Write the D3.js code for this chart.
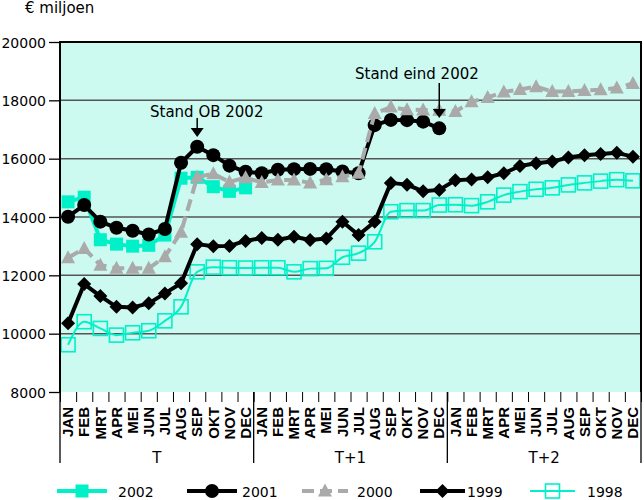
<!DOCTYPE html>
<html><head><meta charset="utf-8">
<script src="https://cdn.jsdelivr.net/npm/d3@7/dist/d3.min.js"></script>
<style>
html,body{margin:0;padding:0;background:#fff;}
svg{display:block;font-family:"DejaVu Sans",sans-serif;}
</style></head>
<body><svg id="c" width="644" height="500"></svg>
<script>
const months = ["JAN","FEB","MRT","APR","MEI","JUN","JUL","AUG","SEP","OKT","NOV","DEC"];
const periods = ["T","T+1","T+2"];
const yTicks = [8000,10000,12000,14000,16000,18000,20000];
const s2002 = [14520,14680,13220,13070,13000,13030,13380,15330,15360,15040,14880,15000];
const s2001 = [14010,14410,13840,13630,13530,13400,13590,15860,16410,16120,15760,15550,
               15500,15620,15640,15650,15640,15560,15500,17150,17330,17320,17270,17040];
const s2000 = [12600,12920,12350,12240,12240,12240,12640,13480,15370,15480,15200,15350,
               15180,15270,15270,15170,15280,15380,15500,17550,17770,17680,17670,17660,
               17620,17950,18100,18290,18370,18470,18300,18300,18340,18360,18420,18580];
const s1999 = [10360,11700,11290,10920,10900,11040,11380,11730,13070,13000,13010,13180,
               13280,13220,13320,13210,13260,13840,13380,13840,15170,15110,14880,14930,
               15260,15290,15360,15500,15750,15840,15900,16040,16120,16160,16200,16070];
const s1998 = [9620,10410,10180,9950,10030,10100,10440,10920,12120,12280,12260,12250,
               12260,12260,12120,12230,12240,12620,12760,13150,14180,14220,14220,14410,
               14420,14390,14520,14750,14870,14950,15000,15100,15170,15230,15280,15240];
const legendLabels = ["2002","2001","2000","1999","1998"];
const annotations = [{text:"Stand OB 2002", idx:8, series:"2001"},{text:"Stand eind 2002", idx:23, series:"2001"}];

const CYAN = "#00f0c8", BG = "#ccfaf1", GRAY = "#aaaaaa";
const L = 60, R = 641, T = 42, B = 392;
const svg = d3.select("#c");
const nM = 36;
const xb = d3.scaleBand().domain(d3.range(nM)).range([L, R]).padding(0);
const xl = d3.scaleLinear().domain([0, nM]).range([L, R]);
const y = d3.scaleLinear().domain([8000, 20000]).range([B, T]);
const cx = i => xb(i) + xb.bandwidth() / 2;

// background
svg.append("rect").attr("x", L).attr("y", T).attr("width", R - L).attr("height", B - T).attr("fill", BG);
// gridlines
svg.append("g").selectAll("line").data(yTicks.filter(v => v > 8000 && v < 20000)).join("line")
  .attr("x1", L).attr("x2", R).attr("y1", d => y(d)).attr("y2", d => y(d))
  .attr("stroke", "#555").attr("stroke-width", 1.5);

// y axis
const ya = svg.append("g").attr("transform", `translate(${L},0)`)
  .call(d3.axisLeft(y).tickValues(yTicks).tickSize(11).tickPadding(3).tickFormat(d3.format("d")));
ya.select(".domain").remove();
ya.selectAll(".tick line").attr("stroke", "#000").attr("stroke-width", 1.3);
ya.selectAll(".tick text").attr("font-size", 14).attr("font-family", "DejaVu Sans").attr("fill", "#000").attr("dy", "0.36em");

// x axis ticks
const xa = svg.append("g").attr("transform", `translate(0,${B})`)
  .call(d3.axisBottom(xl).tickValues(d3.range(0, nM + 1)).tickSize(10).tickFormat(""));
xa.select(".domain").remove();
xa.selectAll(".tick line").attr("stroke", "#000").attr("stroke-width", 1);
// year separators
svg.append("g").selectAll("line").data([0, 12, 24, 36]).join("line")
  .attr("x1", d => xl(d)).attr("x2", d => xl(d)).attr("y1", B).attr("y2", 463)
  .attr("stroke", "#000").attr("stroke-width", 1.3);
// month labels
svg.append("g").selectAll("text").data(d3.range(nM)).join("text")
  .attr("transform", i => `translate(${cx(i) + 5.2},407) rotate(-90)`)
  .attr("text-anchor", "end").attr("font-size", 15).attr("font-weight", "bold")
  .attr("font-family", "Liberation Sans").text(i => months[i % 12]);
// period labels
svg.append("g").selectAll("text").data(periods).join("text")
  .attr("x", (d, i) => xl(i * 12 + 6)).attr("y", 463).attr("text-anchor", "middle")
  .attr("font-size", 15).text(d => d);

// unit label
svg.append("text").attr("x", 25).attr("y", 13).attr("font-size", 15).text("€ miljoen");

// markers
function marker(g, type, x0, y0, color) {
  if (type === "sq") g.append("rect").attr("x", x0 - 6.5).attr("y", y0 - 6.5).attr("width", 13).attr("height", 13).attr("fill", color);
  else if (type === "circle") g.append("circle").attr("cx", x0).attr("cy", y0).attr("r", 7).attr("fill", color);
  else if (type === "tri") g.append("path").attr("d", `M${x0},${y0 - 7.5}L${x0 + 7},${y0 + 5.5}L${x0 - 7},${y0 + 5.5}Z`).attr("fill", color);
  else if (type === "dia") g.append("path").attr("d", `M${x0},${y0 - 7}L${x0 + 7},${y0}L${x0},${y0 + 7}L${x0 - 7},${y0}Z`).attr("fill", color);
  else if (type === "hsq") g.append("rect").attr("x", x0 - 7).attr("y", y0 - 7).attr("width", 14).attr("height", 14).attr("fill", "none").attr("stroke", color).attr("stroke-width", 1.6);
}
const seriesDefs = {
  "2002": {data: s2002, color: CYAN, width: 4, dash: null, m: "sq", curve: d3.curveLinear},
  "2001": {data: s2001, color: "#000", width: 4, dash: null, m: "circle", curve: d3.curveLinear},
  "2000": {data: s2000, color: GRAY, width: 4, dash: "12,6", m: "tri", curve: d3.curveLinear},
  "1999": {data: s1999, color: "#000", width: 4, dash: null, m: "dia", curve: d3.curveLinear},
  "1998": {data: s1998, color: CYAN, width: 2, dash: null, m: "hsq", curve: d3.curveMonotoneX}
};
const order = ["1998", "1999", "2002", "2001", "2000"];
order.forEach(k => {
  const s = seriesDefs[k];
  const g = svg.append("g");
  const line = d3.line().x((d, i) => cx(i)).y(d => y(d)).curve(s.curve);
  g.append("path").datum(s.data).attr("d", line).attr("fill", "none")
    .attr("stroke", s.color).attr("stroke-width", s.width).attr("stroke-linejoin", "round")
    .attr("stroke-dasharray", s.dash);
  s.data.forEach((v, i) => marker(g, s.m, cx(i), y(v), s.color));
});

// frame
svg.append("path").attr("d", `M${L},${B}V${T}H${R}V${B}`).attr("fill", "none").attr("stroke", "#000").attr("stroke-width", 2);

// annotations
const annPos = [{tx: 150, ty: 117, ay0: 118, tip: 137}, {tx: 355, ty: 79, ay0: 83, tip: 118}];
annotations.forEach((a, j) => {
  const ax = cx(a.idx);
  const p = annPos[j];
  svg.append("text").attr("x", p.tx).attr("y", p.ty).attr("font-size", 15).text(a.text);
  svg.append("line").attr("x1", ax).attr("x2", ax).attr("y1", p.ay0).attr("y2", p.tip - 8).attr("stroke", "#000").attr("stroke-width", 1.5);
  svg.append("path").attr("d", `M${ax - 6.5},${p.tip - 9}L${ax + 6.5},${p.tip - 9}L${ax},${p.tip}Z`).attr("fill", "#000");
});

// legend
const legPos = [{x1: 57, x2: 107, tx: 118}, {x1: 187, x2: 237, tx: 242}, {x1: 302, x2: 348, tx: 357}, {x1: 420, x2: 465, tx: 467}, {x1: 530, x2: 575, tx: 587}];
const lg = svg.append("g");
legendLabels.forEach((k, j) => {
  const s = seriesDefs[k], p = legPos[j], ly = 491;
  lg.append("line").attr("x1", p.x1).attr("x2", p.x2).attr("y1", ly).attr("y2", ly)
    .attr("stroke", s.color).attr("stroke-width", s.width).attr("stroke-dasharray", s.dash);
  marker(lg, s.m, (p.x1 + p.x2) / 2, ly, s.color);
  lg.append("text").attr("x", p.tx).attr("y", 497).attr("font-size", 14).text(k);
});
</script></body></html>
